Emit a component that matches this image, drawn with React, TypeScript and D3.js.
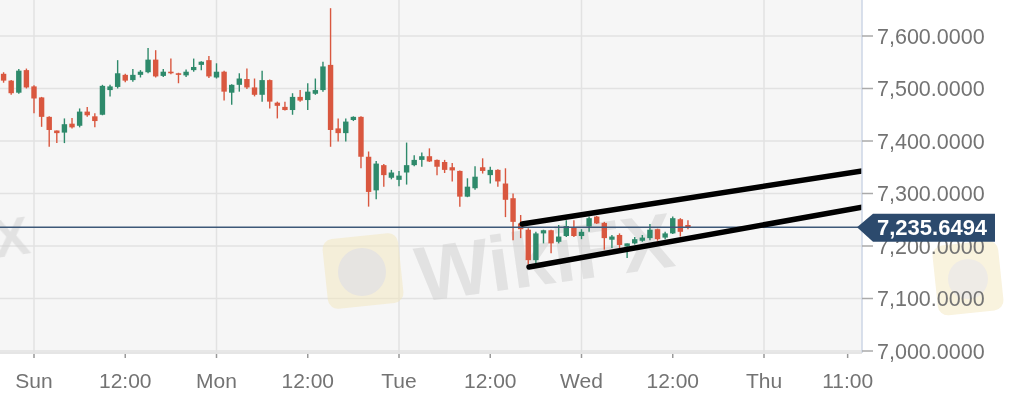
import React from "react";
import * as d3 from "d3";

// ---- data (hourly candles starting Sat 20:00) ----
const startTime = "2019-11-30T20:00:00Z";
const opens = [7528,7515,7492,7535,7504,7483,7446,7420,7416,7433,7429,7456,7447,7450,7497,7503,7526,7516,7526,7531,7555,7524,7532,7529,7525,7535,7545,7554,7521,7532,7492,7507,7518,7502,7488,7516,7473,7465,7459,7484,7478,7490,7497,7545,7424,7415,7440,7446,7370,7306,7354,7330,7326,7340,7354,7364,7371,7364,7360,7350,7343,7294,7310,7350,7335,7345,7319,7291,7243,7231,7173,7224,7230,7208,7219,7236,7219,7237,7256,7244,7212,7221,7199,7205,7210,7215,7232,7216,7224,7251,7240];
const highs = [7531,7516,7537,7538,7506,7484,7447,7420,7443,7444,7462,7465,7453,7507,7507,7554,7528,7537,7535,7577,7573,7537,7557,7530,7536,7557,7552,7562,7548,7534,7508,7529,7538,7519,7534,7517,7475,7475,7491,7497,7510,7519,7551,7653,7443,7443,7447,7447,7380,7362,7356,7345,7343,7397,7373,7378,7386,7365,7364,7358,7344,7329,7352,7367,7351,7346,7348,7300,7259,7234,7227,7231,7231,7240,7249,7249,7232,7256,7257,7246,7221,7224,7205,7217,7221,7242,7233,7227,7256,7253,7249];
const lows = [7511,7488,7490,7500,7453,7427,7389,7396,7396,7424,7426,7446,7426,7449,7485,7500,7512,7513,7521,7529,7521,7522,7527,7510,7522,7532,7535,7520,7519,7477,7469,7494,7499,7485,7475,7462,7443,7458,7450,7475,7459,7488,7494,7389,7399,7399,7438,7348,7275,7289,7313,7327,7314,7317,7352,7351,7360,7335,7339,7323,7275,7293,7307,7338,7319,7313,7255,7211,7215,7165,7167,7205,7186,7205,7217,7217,7213,7227,7242,7193,7196,7192,7177,7203,7208,7211,7210,7213,7223,7218,7232];
const closes = [7515,7491,7534,7502,7481,7446,7421,7415,7432,7426,7456,7449,7438,7505,7504,7529,7515,7526,7532,7555,7523,7532,7529,7526,7532,7541,7551,7523,7532,7494,7507,7519,7502,7488,7516,7475,7467,7459,7484,7477,7494,7497,7542,7421,7415,7437,7446,7370,7303,7357,7335,7340,7334,7354,7364,7371,7361,7351,7345,7344,7294,7313,7332,7343,7345,7323,7288,7246,7232,7173,7224,7230,7205,7218,7238,7219,7227,7253,7243,7215,7218,7202,7205,7213,7216,7231,7213,7224,7253,7227,7235.6494];

const lastPrice = 7235.6494;
const priceTicks = [7000, 7100, 7200, 7300, 7400, 7500, 7600];
const timeTicks = ["2019-12-01T00:00Z","2019-12-01T12:00Z","2019-12-02T00:00Z","2019-12-02T12:00Z","2019-12-03T00:00Z","2019-12-03T12:00Z","2019-12-04T00:00Z","2019-12-04T12:00Z","2019-12-05T00:00Z","2019-12-05T11:00Z"];
const timeTickLabels = ["Sun","12:00","Mon","12:00","Tue","12:00","Wed","12:00","Thu","11:00"];
const dayLines = ["2019-12-01T00:00Z","2019-12-02T00:00Z","2019-12-03T00:00Z","2019-12-04T00:00Z","2019-12-05T00:00Z"];

// channel trend lines: [time, price] endpoints
const upperLine: [string, number][] = [["2019-12-03T16:12Z", 7242], ["2019-12-05T12:54Z", 7343]];
const lowerLine: [string, number][] = [["2019-12-03T17:06Z", 7160], ["2019-12-05T12:54Z", 7274]];

const W = 1010, H = 408;
const plotR = 862, plotB = 352;

export default function App() {
  const x = d3.scaleUtc()
    .domain([new Date("2019-12-01T00:00Z"), new Date("2019-12-05T00:00Z")])
    .range([34, 764]);
  const y = d3.scaleLinear().domain([7000, 7600]).range([351, 36]);
  const t0 = new Date(startTime).getTime();
  const candles = opens.map((o, i) => ({
    t: new Date(t0 + i * 3600e3), o, h: highs[i], l: lows[i], c: closes[i],
  }));
  const fmt = d3.format(",.4f");
  const font = "'Liberation Sans', Arial, sans-serif";
  const red = "#d9573f", green = "#2e8a6b";
  const line = d3.line<[string, number]>().x(d => x(new Date(d[0]))).y(d => y(d[1]));
  const py = y(lastPrice);

  return (
    <div style={{ position: "fixed", left: 0, top: 0 }}>
      <svg width={W} height={H} style={{ display: "block" }}>
        <defs>
          <clipPath id="plot"><rect x={0} y={0} width={plotR} height={plotB} /></clipPath>
        </defs>
        <rect x={0} y={0} width={W} height={H} fill="#ffffff" />
        <rect x={0} y={0} width={plotR} height={plotB} fill="#f6f6f6" />
        {priceTicks.map(p => (
          <line key={"g" + p} x1={0} x2={plotR} y1={y(p)} y2={y(p)} stroke="#e2e2e2" strokeWidth={1.5} />
        ))}
        {dayLines.map(d => (
          <line key={"v" + d} x1={x(new Date(d))} x2={x(new Date(d))} y1={0} y2={plotB} stroke="#e2e2e2" strokeWidth={1.5} />
        ))}
        {/* watermarks */}
        <g opacity={0.5}>
          <rect x={325} y={236} width={76} height={70} rx={10} fill="#f3e6bd" transform="rotate(-6 363 271)" />
          <circle cx={362} cy={272} r={24} fill="#d6d2cc" />
          <text x={420} y={302} fontFamily={font} fontWeight="bold" fontSize={78} fill="#cfcfcf" transform="rotate(-8 420 302)">WikiFX</text>
          <text x={-4} y={258} fontFamily={font} fontWeight="bold" fontSize={54} fill="#cfcfcf" transform="rotate(-8 -4 258)">X</text>
          <rect x={935} y={243} width={66} height={70} rx={10} fill="#f3e6bd" transform="rotate(-6 968 278)" />
          <circle cx={968} cy={279} r={20} fill="#ddd6cc" />
        </g>
        <g clipPath="url(#plot)">
          {candles.map((d, i) => {
            const cx = x(d.t);
            const col = d.c >= d.o ? green : red;
            const top = y(Math.max(d.o, d.c));
            const bot = y(Math.min(d.o, d.c));
            return (
              <g key={i}>
                <line x1={cx} x2={cx} y1={y(d.h)} y2={y(d.l)} stroke={col} strokeWidth={1.4} />
                <rect x={cx - 2.7} y={top} width={5.4} height={Math.max(1.5, bot - top)} fill={col} />
              </g>
            );
          })}
          <line x1={0} x2={plotR} y1={py} y2={py} stroke="#3d5878" strokeWidth={1.5} />
          <path d={line(upperLine) ?? ""} stroke="#000" strokeWidth={5.5} fill="none" strokeLinecap="round" />
          <path d={line(lowerLine) ?? ""} stroke="#000" strokeWidth={5.5} fill="none" strokeLinecap="round" />
        </g>
        {/* right axis */}
        <line x1={plotR} x2={plotR} y1={0} y2={plotB + 1} stroke="#ccd6e6" strokeWidth={1.5} />
        {priceTicks.map(p => (
          <g key={"t" + p}>
            <line x1={plotR} x2={plotR + 11} y1={y(p)} y2={y(p)} stroke="#aaaaaa" strokeWidth={1.5} />
            <text x={877} y={y(p)} dy="0.36em" fontFamily={font} fontSize={21.5} fill="#737373">{fmt(p)}</text>
          </g>
        ))}
        {/* bottom axis */}
        <line x1={0} x2={plotR} y1={plotB + 1} y2={plotB + 1} stroke="#dddddd" strokeWidth={1.5} />
        {timeTicks.map((t, i) => {
          const tx = x(new Date(t));
          return (
            <g key={"x" + i}>
              <line x1={tx} x2={tx} y1={plotB + 2} y2={plotB + 6} stroke="#999999" strokeWidth={1.5} />
              <text x={tx} y={388} textAnchor="middle" fontFamily={font} fontSize={21} fill="#737373">{timeTickLabels[i]}</text>
            </g>
          );
        })}
        {/* last price label */}
        <path d={`M${plotR - 5},${py} L${plotR + 11},${py - 13.5} L995,${py - 13.5} L995,${py + 14.5} L${plotR + 11},${py + 14.5} Z`} fill="#2c4a6d" />
        <text x={877} y={py} dy="0.36em" fontFamily={font} fontWeight="bold" fontSize={22} fill="#ffffff">{fmt(lastPrice)}</text>
      </svg>
    </div>
  );
}
